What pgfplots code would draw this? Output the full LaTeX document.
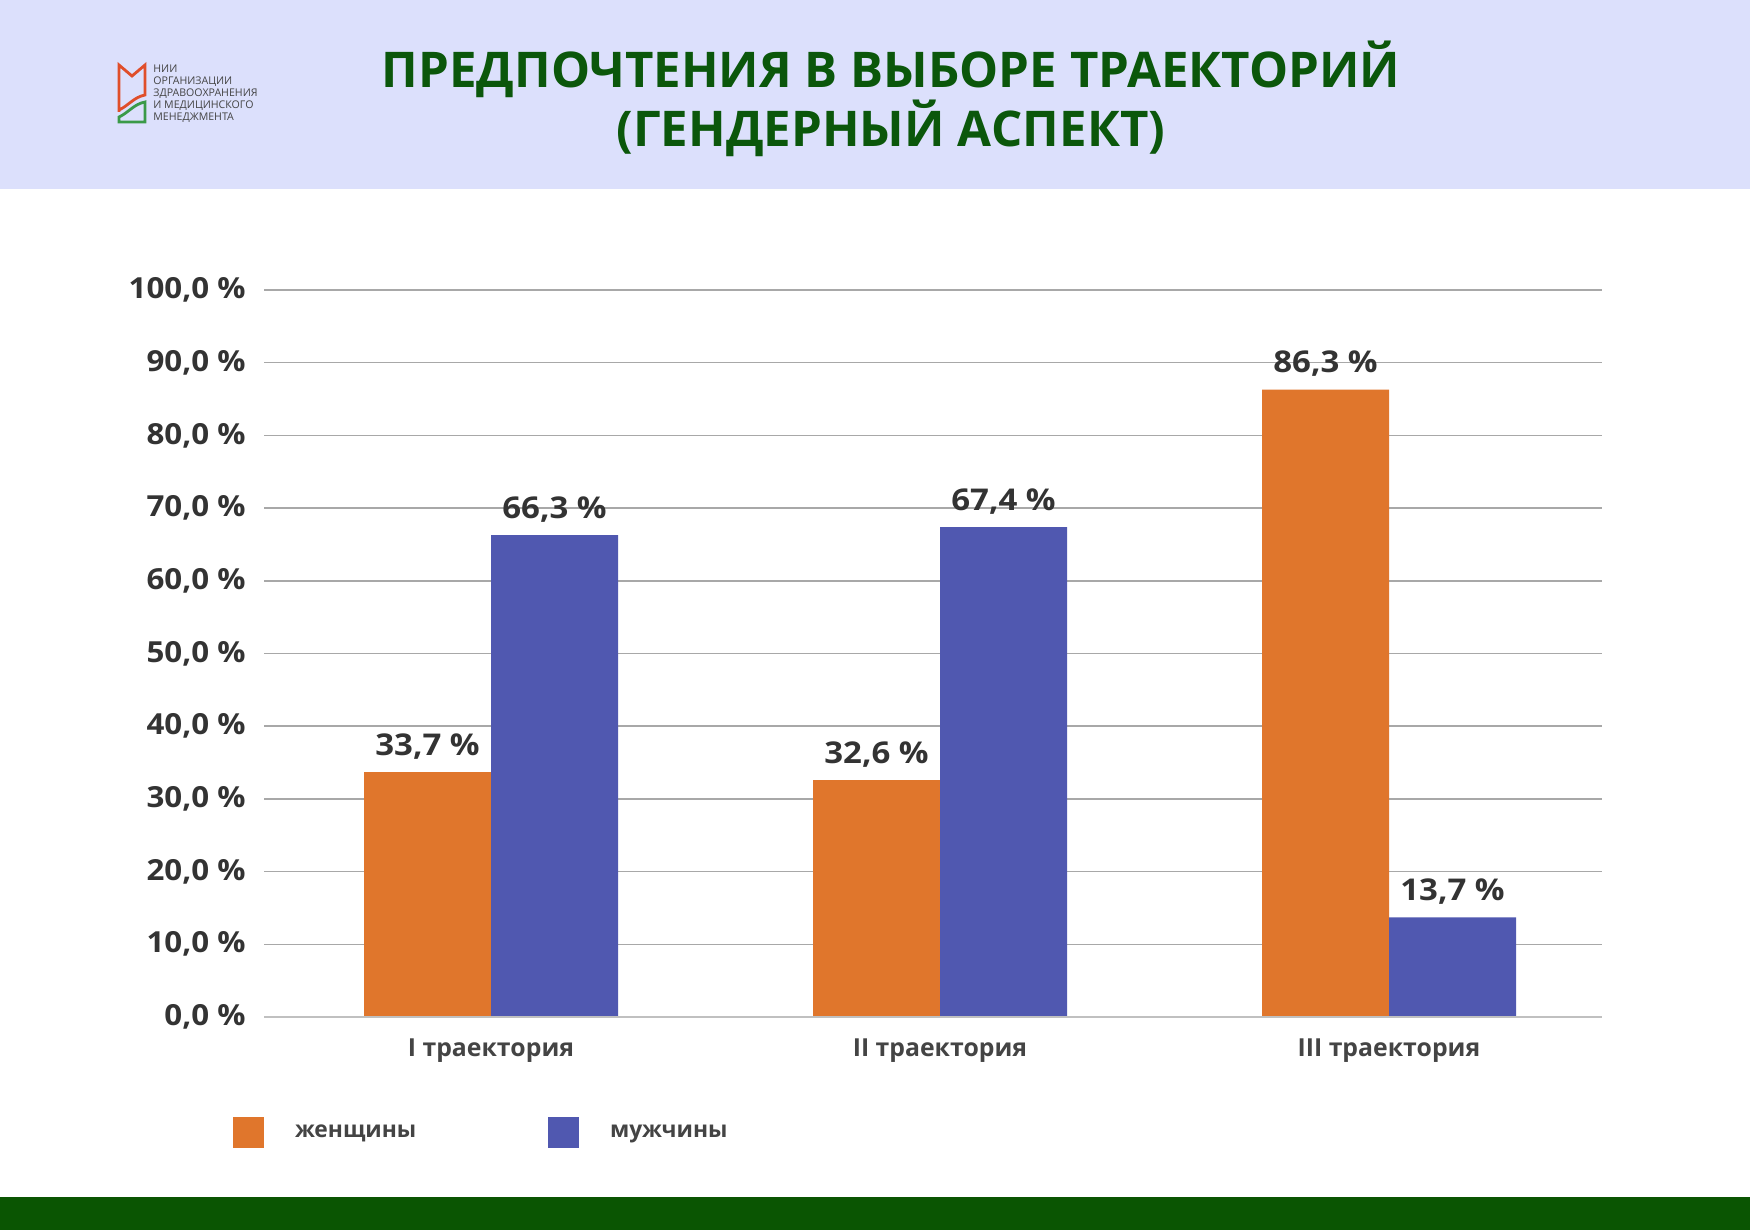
\documentclass[border=0pt]{standalone}
\usepackage{fontspec}
\setmainfont{Open Sans}
\usepackage{graphicx}
\usepackage{pgfplots}
\pgfplotsset{compat=1.18}
\definecolor{hdr}{HTML}{DCE0FC}
\definecolor{ftr}{HTML}{0A5502}
\definecolor{ttl}{HTML}{0B570B}
\definecolor{fem}{HTML}{E0762C}
\definecolor{mal}{HTML}{5058B0}
\definecolor{gridc}{HTML}{A8A8A8}
\definecolor{axisc}{HTML}{C0C0C0}
\definecolor{tickc}{HTML}{333333}
\definecolor{catc}{HTML}{444444}
\definecolor{logored}{HTML}{E04E2A}
\definecolor{logogreen}{HTML}{3A9A48}
\begin{document}
\begin{tikzpicture}
\useasboundingbox (0,0) rectangle (875pt,-615pt);
\fill[white] (0,0) rectangle (875pt,-615pt);
\fill[hdr] (0,0) rectangle (875pt,-94.5pt);
\fill[ftr] (0,-598.5pt) rectangle (875pt,-615pt);
% title
\node[font=\fontsize{24.6}{29}\selectfont\bfseries, text=ttl, inner sep=0pt] at (445.5pt,-34.5pt) {ПРЕДПОЧТЕНИЯ В ВЫБОРЕ ТРАЕКТОРИЙ};
\node[font=\fontsize{24.6}{29}\selectfont\bfseries, text=ttl, inner sep=0pt] at (445.5pt,-64pt) {(ГЕНДЕРНЫЙ АСПЕКТ)};
% logo
\draw[logored, line width=1.4pt, line join=miter] (59.5pt,-56pt) -- (59.5pt,-32.5pt) -- (66pt,-38pt) -- (72.5pt,-32.5pt) -- (72.5pt,-47.5pt) .. controls (67pt,-48.5pt) and (64pt,-53pt) .. (59.5pt,-55pt);
\draw[logogreen, line width=1.4pt, line join=miter] (59.5pt,-61pt) -- (72.5pt,-61pt) -- (72.5pt,-51pt) .. controls (67pt,-52pt) and (64pt,-56.5pt) .. (59.5pt,-58.5pt) -- cycle;
\node[anchor=north west, inner sep=0pt, align=left, text=catc, font=\fontsize{5.3}{6}\selectfont] at (76.5pt,-32.3pt) {НИИ\\ОРГАНИЗАЦИИ\\ЗДРАВООХРАНЕНИЯ\\И МЕДИЦИНСКОГО\\МЕНЕДЖМЕНТА};
\begin{axis}[
  at={(132pt,-508.5pt)}, anchor=south west,
  scale only axis, width=669pt, height=363.5pt,
  xmin=-0.5056, xmax=2.4744, ymin=0, ymax=100,
  ybar=0pt, bar width=63.5pt,
  axis line style={draw=none},
  major tick length=0pt,
  ytick={0,10,...,100},
  ymajorgrids, grid style={color=gridc, line width=0.75pt},
  xtick={0,1,2},
  xticklabels={I траектория, II траектория, III траектория},
  /pgf/number format/assume math mode=true,
  yticklabel={\scalebox{1.08}[1]{\pgfmathprintnumber[fixed,fixed zerofill,precision=1,use comma]{\tick}~\%}},
  yticklabel style={font=\fontsize{14.5}{16}\selectfont\bfseries, text=tickc, anchor=east, inner sep=0pt, xshift=-9pt},
  xticklabel style={font=\fontsize{12.4}{14}\selectfont\bfseries, text=catc, anchor=base, inner sep=0pt, yshift=-19.5pt},
  nodes near coords={\scalebox{1.1}[1]{\pgfmathprintnumber[fixed,fixed zerofill,precision=1,use comma]{\pgfplotspointmeta}~\%}},
  nodes near coords style={font=\fontsize{15}{17}\selectfont\bfseries, text=tickc, anchor=base, inner sep=0pt, yshift=8.5pt},
  legend columns=2,
  legend image code/.code={\fill[#1] (0pt,-7.75pt) rectangle (15.5pt,7.75pt);},
  legend style={draw=none, fill=none, inner sep=0pt, outer sep=0pt,
    at={(axis description cs:-0.02317,-0.13755)}, anchor=north west,
    nodes={inner sep=0pt, font=\fontsize{11.4}{14}\selectfont\bfseries, text=catc},
    /tikz/every odd column/.append style={column sep=15.5pt}},
]
\addplot[fill=fem, draw=none] coordinates {(0,33.7) (1,32.6) (2,86.3)};
\addlegendentry{\makebox[126.5pt][l]{женщины}}
\addplot[fill=mal, draw=none] coordinates {(0,66.3) (1,67.4) (2,13.7)};
\addlegendentry{\makebox[60pt][l]{мужчины}}
\draw[axisc, line width=1.2pt] (axis cs:-0.5056,0) -- (axis cs:2.4744,0);
\end{axis}
\end{tikzpicture}
\end{document}
